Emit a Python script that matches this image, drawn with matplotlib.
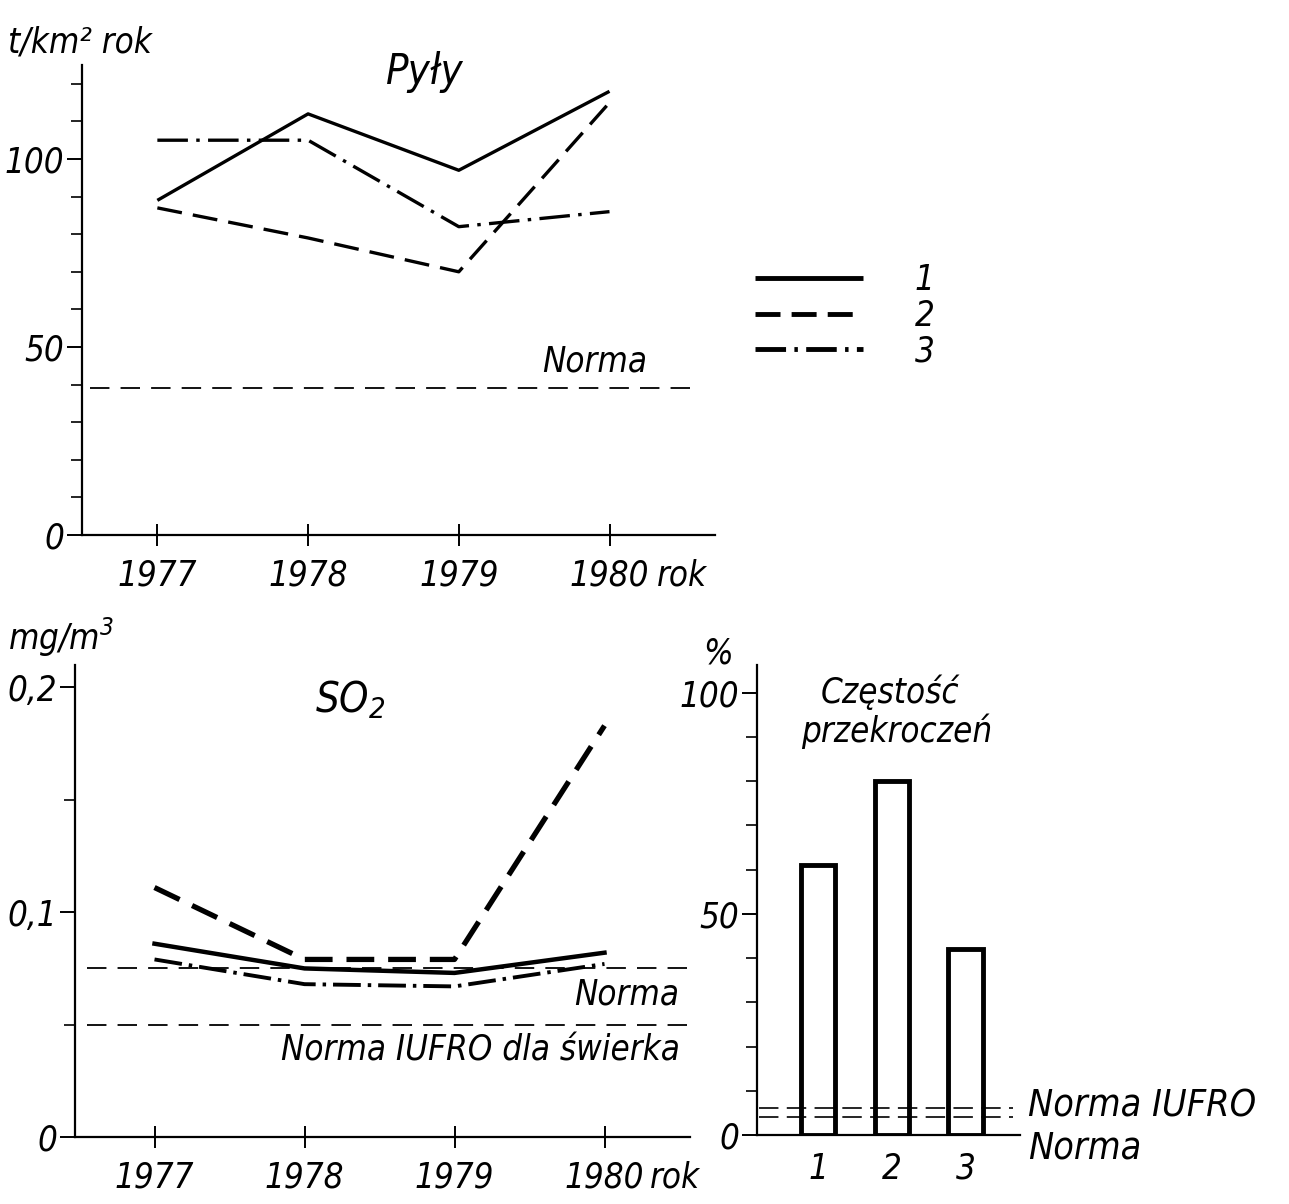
import matplotlib
matplotlib.use("Agg")
import matplotlib.pyplot as plt
from matplotlib.ticker import MultipleLocator, FixedLocator

plt.rcParams['font.family'] = ['DejaVu Sans']
plt.rcParams['font.style'] = 'oblique'
plt.rcParams['font.stretch'] = 'condensed'
plt.rcParams['mathtext.default'] = 'regular'
plt.rcParams['lines.scale_dashes'] = False

# ---------------- data ----------------
years = [1977, 1978, 1979, 1980]
# Pyły (t/km2 rok)
dust_1 = [89, 112, 97, 118]
dust_2 = [87, 79, 70, 115]
dust_3 = [105, 105, 82, 86]
dust_norm = 39
# SO2 (mg/m3)
so2_1 = [0.086, 0.075, 0.073, 0.082]
so2_2 = [0.111, 0.079, 0.079, 0.183]
so2_3 = [0.079, 0.068, 0.067, 0.077]
so2_norm = 0.075
so2_iufro = 0.050
# Częstość przekroczeń (%)
bar_cats = [1, 2, 3]
bar_vals = [61, 80, 42]
freq_iufro = 6
freq_norm = 4

series_labels = ['1', '2', '3']

FS = 25
K = 'black'

fig = plt.figure(figsize=(12.89, 12.04), dpi=100)
W, H = 1289, 1204

def axes_px(l, r, b, t):
    return fig.add_axes([l / W, 1 - b / H, (r - l) / W, (b - t) / H])

def style_axes(ax):
    for s in ['top', 'right']:
        ax.spines[s].set_visible(False)
    for s in ['left', 'bottom']:
        ax.spines[s].set_linewidth(1.6)
    ax.tick_params(axis='y', which='major', direction='out', length=11, width=1.4, labelsize=FS, pad=2)
    ax.tick_params(axis='y', which='minor', direction='out', length=8, width=1.2)
    ax.tick_params(axis='x', which='major', direction='inout', length=16, width=1.4, labelsize=FS, pad=9)

ls2_top = (0, (18, 8))
ls3_top = (0, (22, 6, 2.5, 6))

# ---------------- top: Pyły ----------------
ax1 = axes_px(82, 715, 535, 65)
style_axes(ax1)
ax1.set_xlim(1976.50, 1980.70)
ax1.set_ylim(0, 125)
l1, = ax1.plot(years, dust_1, color=K, lw=2.4, solid_capstyle='butt')
l2, = ax1.plot(years, dust_2, color=K, lw=2.4, linestyle=ls2_top)
l3, = ax1.plot(years, dust_3, color=K, lw=2.4, linestyle=ls3_top)
ax1.plot([1976.55, 1980.55], [dust_norm, dust_norm], color=K, lw=1.3, linestyle=(0, (14, 8)))
ax1.text(1980.25, dust_norm + 2.5, 'Norma', ha='right', va='bottom', fontsize=FS)
ax1.set_xticks(years)
ax1.set_xticklabels([str(y) for y in years])
ax1.yaxis.set_major_locator(FixedLocator([0, 50, 100]))
ax1.yaxis.set_minor_locator(MultipleLocator(10))
ax1.annotate('rok', xy=(1980, 0), xycoords=('data', 'axes fraction'),
             xytext=(34, -17), textcoords='offset points', ha='left', va='top', fontsize=FS)
ax1.text(0.542, 0.985, 'Pyły', transform=ax1.transAxes, ha='center', va='center', fontsize=30)
fig.text(8 / W, 1 - 52 / H, 't/km² rok', ha='left', va='baseline', fontsize=FS)

# legend
leg = fig.legend([l1, l2, l3], series_labels, loc='upper left',
                 bbox_to_anchor=(755 / W, 1 - 263 / H), frameon=False, fontsize=FS,
                 handlelength=3.1, handletextpad=1.5, labelspacing=0.05,
                 borderpad=0, borderaxespad=0)
for h in leg.legend_handles:
    h.set_linewidth(3.5)

# ---------------- bottom-left: SO2 ----------------
ax2 = axes_px(75, 690, 1137, 665)
style_axes(ax2)
ax2.set_xlim(1976.47, 1980.57)
ax2.set_ylim(0, 0.21)
ax2.plot(years, so2_1, color=K, lw=3.2)
ax2.plot(years, so2_2, color=K, lw=3.8, linestyle=(0, (20, 10)))
ax2.plot(years, so2_3, color=K, lw=2.8, linestyle=(0, (20, 5, 2.5, 5)))
ax2.plot([1976.55, 1980.55], [so2_norm, so2_norm], color=K, lw=1.3, linestyle=(0, (14, 8)))
ax2.plot([1976.55, 1980.55], [so2_iufro, so2_iufro], color=K, lw=1.3, linestyle=(0, (14, 8)))
ax2.text(1980.5, so2_norm - 0.004, 'Norma', ha='right', va='top', fontsize=FS)
ax2.text(1980.5, so2_iufro - 0.004, 'Norma IUFRO dla świerka', ha='right', va='top', fontsize=FS)
ax2.set_xticks(years)
ax2.set_xticklabels([str(y) for y in years])
ax2.yaxis.set_major_locator(FixedLocator([0, 0.1, 0.2]))
ax2.set_yticklabels(['0', '0,1', '0,2'])
ax2.yaxis.set_minor_locator(MultipleLocator(0.05))
ax2.annotate('rok', xy=(1980, 0), xycoords=('data', 'axes fraction'),
             xytext=(33, -17), textcoords='offset points', ha='left', va='top', fontsize=FS)
fig.text(350 / W, 1 - 712 / H, 'SO$_2$', ha='center', va='baseline', fontsize=30)
fig.text(8 / W, 1 - 650 / H, 'mg/m$^3$', ha='left', va='baseline', fontsize=FS)

# ---------------- bottom-right: bars ----------------
ax3 = axes_px(757, 1020, 1135, 665)
style_axes(ax3)
ax3.set_xlim(0.17, 3.74)
ax3.set_ylim(0, 106.3)
ax3.bar(bar_cats, bar_vals, width=0.47, facecolor='white', edgecolor=K, linewidth=3.5, zorder=3)
ax3.plot([0.2, 3.65], [freq_iufro, freq_iufro], color=K, lw=1.2, linestyle=(0, (14, 6)), zorder=4)
ax3.plot([0.2, 3.65], [freq_norm, freq_norm], color=K, lw=1.2, linestyle=(0, (14, 6)), zorder=4)
ax3.set_xticks(bar_cats)
ax3.set_xticklabels([str(c) for c in bar_cats])
ax3.tick_params(axis='x', length=0, pad=12)
ax3.yaxis.set_major_locator(FixedLocator([0, 50, 100]))
ax3.yaxis.set_minor_locator(MultipleLocator(10))
ax3.text(3.85, freq_iufro + 0.5, 'Norma IUFRO', ha='left', va='center', fontsize=27, clip_on=False)
ax3.text(3.85, freq_norm - 7, 'Norma', ha='left', va='center', fontsize=27, clip_on=False)
fig.text(718 / W, 1 - 663 / H, '%', ha='center', va='baseline', fontsize=25)
fig.text(890 / W, 1 - 703 / H, 'Częstość', ha='center', va='baseline', fontsize=FS)
fig.text(897 / W, 1 - 742 / H, 'przekroczeń', ha='center', va='baseline', fontsize=FS)

fig.savefig('out.png', dpi=100, facecolor='white')
